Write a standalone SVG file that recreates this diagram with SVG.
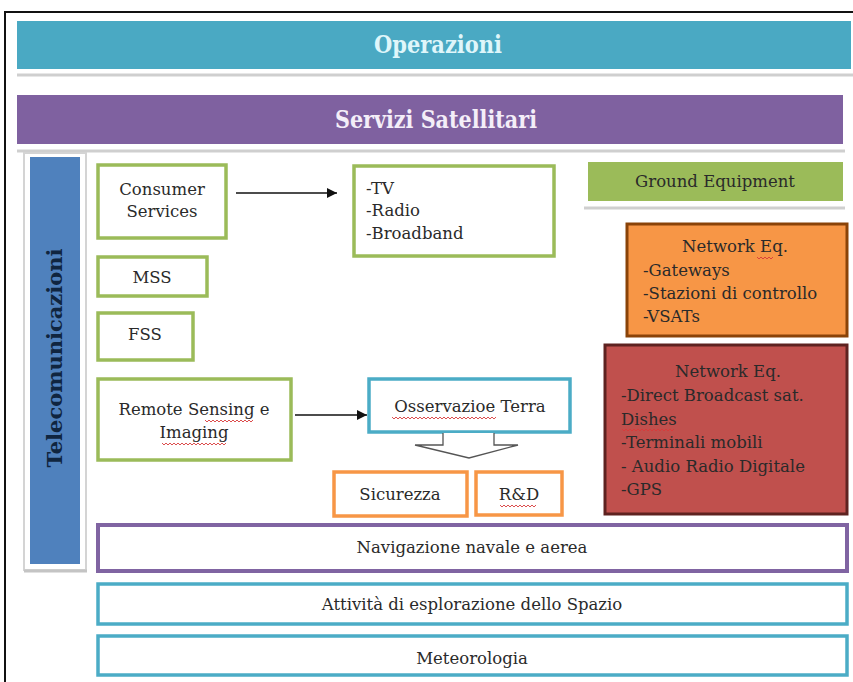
<svg xmlns="http://www.w3.org/2000/svg" width="853" height="682" viewBox="0 0 853 682">
  <defs>
    <marker id="arrowHead" viewBox="0 0 10 10" refX="10" refY="5" markerWidth="10" markerHeight="10" markerUnits="userSpaceOnUse" orient="auto">
      <path d="M0,0 L10,5 L0,10 z" fill="#111"/>
    </marker>
  </defs>
  <style>
    .body { font-family: "DejaVu Serif", "Liberation Serif", serif; font-size: 16.5px; fill: #2a2a2a; }
    .mid { text-anchor: middle; }
    .head { font-family: "DejaVu Serif Condensed", "DejaVu Serif", serif; font-weight: bold; font-size: 24px; text-anchor: middle; }
    .green { fill: #ffffff; stroke: #9bbb59; stroke-width: 3.5; }
    .teal { fill: #ffffff; stroke: #4bacc6; stroke-width: 3.5; }
    .orangeLine { fill: #ffffff; stroke: #f79646; stroke-width: 3.5; }
    .purpleLine { fill: #ffffff; stroke: #8064a2; stroke-width: 4; }
    .divider { stroke: #cfcfcf; stroke-width: 3; fill: none; }
    .wave { fill: none; stroke: #d83a3a; stroke-width: 0.9; }
  </style>

  <rect width="853" height="682" fill="#ffffff"/>
  <!-- outer frame -->
  <path d="M5,690 V12 H860" fill="none" stroke="#111" stroke-width="2"/>

  <g id="operazioni">
    <rect x="17" y="21" width="834" height="48" fill="#4aa9c3"/>
    <line class="divider" x1="17" y1="75" x2="853" y2="75"/>
    <text class="head" x="438" y="53" fill="#dff6fa" textLength="128" lengthAdjust="spacingAndGlyphs">Operazioni</text>
  </g>

  <g id="servizi-satellitari">
    <rect x="17" y="95" width="826" height="49" fill="#7f61a0"/>
    <line class="divider" x1="17" y1="151" x2="845" y2="151"/>
    <text class="head" x="436" y="128" fill="#f4eef8" textLength="202" lengthAdjust="spacingAndGlyphs">Servizi Satellitari</text>
  </g>

  <g id="telecomunicazioni">
    <rect x="24" y="153" width="62" height="417" fill="none" stroke="#d4d4d4" stroke-width="2"/>
    <line x1="24" y1="571" x2="87" y2="571" stroke="#c4c4c4" stroke-width="3"/>
    <rect x="30" y="157" width="50" height="407" fill="#4f81bd"/>
    <text x="0" y="0" transform="translate(62,358) rotate(-90)" font-family="DejaVu Serif, serif" font-weight="bold" font-size="21" fill="#10253f" text-anchor="middle">Telecomunicazioni</text>
  </g>

  <g id="consumer-services">
    <rect class="green" x="98" y="165" width="128" height="73"/>
    <text class="body mid" x="162" y="195">Consumer</text>
    <text class="body mid" x="162" y="217">Services</text>
  </g>

  <g id="tv-radio-broadband">
    <rect class="green" x="354" y="166" width="200" height="90"/>
    <text class="body" x="366" y="194">-TV</text>
    <text class="body" x="366" y="216">-Radio</text>
    <text class="body" x="366" y="239">-Broadband</text>
  </g>

  <g id="mss">
    <rect class="green" x="98" y="257" width="109" height="39"/>
    <text class="body mid" x="152" y="283">MSS</text>
  </g>

  <g id="fss">
    <rect class="green" x="98" y="313" width="95" height="47"/>
    <text class="body mid" x="145" y="340">FSS</text>
  </g>

  <g id="remote-sensing">
    <rect class="green" x="98" y="379" width="193" height="81"/>
    <text class="body mid" x="194" y="415">Remote Sensing e</text>
    <text class="body mid" x="194" y="438">Imaging</text>
    <path class="wave" d="M205,420 l2,2 l2,-2 l2,2 l2,-2 l2,2 l2,-2 l2,2 l2,-2 l2,2 l2,-2 l2,2 l2,-2 l2,2 l2,-2 l2,2 l2,-2 l2,2 l2,-2 l2,2 l2,-2 l2,2 l2,-2 l2,2 l2,-2"/>
    <path class="wave" d="M162,443 l2,2 l2,-2 l2,2 l2,-2 l2,2 l2,-2 l2,2 l2,-2 l2,2 l2,-2 l2,2 l2,-2 l2,2 l2,-2 l2,2 l2,-2 l2,2 l2,-2 l2,2 l2,-2 l2,2 l2,-2 l2,2 l2,-2 l2,2 l2,-2 l2,2 l2,-2 l2,2 l2,-2 l2,2 l2,-2"/>
  </g>

  <g id="osservazione-terra">
    <rect class="teal" x="369" y="379" width="201" height="53"/>
    <text class="body mid" x="470" y="412">Osservazioe Terra</text>
    <path class="wave" d="M392,417 l2,2 l2,-2 l2,2 l2,-2 l2,2 l2,-2 l2,2 l2,-2 l2,2 l2,-2 l2,2 l2,-2 l2,2 l2,-2 l2,2 l2,-2 l2,2 l2,-2 l2,2 l2,-2 l2,2 l2,-2 l2,2 l2,-2 l2,2 l2,-2 l2,2 l2,-2 l2,2 l2,-2 l2,2 l2,-2 l2,2 l2,-2 l2,2 l2,-2 l2,2 l2,-2 l2,2 l2,-2 l2,2 l2,-2 l2,2 l2,-2 l2,2 l2,-2 l2,2 l2,-2 l2,2 l2,-2 l2,2 l2,-2"/>
  </g>

  <g id="sicurezza">
    <rect class="orangeLine" x="334" y="472" width="133" height="44"/>
    <text class="body mid" x="400" y="500">Sicurezza</text>
  </g>

  <g id="r-and-d">
    <rect class="orangeLine" x="476" y="472" width="86" height="43"/>
    <text class="body mid" x="519" y="500">R&amp;D</text>
    <path class="wave" d="M500,505 l2,2 l2,-2 l2,2 l2,-2 l2,2 l2,-2 l2,2 l2,-2 l2,2 l2,-2 l2,2 l2,-2 l2,2 l2,-2 l2,2 l2,-2 l2,2 l2,-2"/>
  </g>

  <g id="ground-equipment">
    <rect x="588" y="162" width="255" height="39" fill="#9bbb59"/>
    <line class="divider" x1="584" y1="208" x2="845" y2="208"/>
    <text class="body mid" x="715" y="187" fill="#1e2a10">Ground Equipment</text>
  </g>

  <g id="network-eq-gateways">
    <rect x="627" y="224" width="220" height="112" fill="#f79646" stroke="#8a4308" stroke-width="3"/>
    <text class="body mid" x="735" y="252" fill="#3b1c05">Network Eq.</text>
    <text class="body" x="643" y="276" fill="#3b1c05">-Gateways</text>
    <text class="body" x="643" y="299" fill="#3b1c05">-Stazioni di controllo</text>
    <text class="body" x="643" y="322" fill="#3b1c05">-VSATs</text>
    <path class="wave" d="M757,257 l2,2 l2,-2 l2,2 l2,-2 l2,2 l2,-2 l2,2 l2,-2"/>
  </g>

  <g id="network-eq-terminals">
    <rect x="605" y="345" width="242" height="169" fill="#c0504d" stroke="#5e2220" stroke-width="3"/>
    <text class="body mid" x="728" y="377" fill="#3a0f0e">Network Eq.</text>
    <text class="body" x="621" y="401" fill="#3a0f0e">-Direct Broadcast sat.</text>
    <text class="body" x="621" y="425" fill="#3a0f0e">Dishes</text>
    <text class="body" x="621" y="448" fill="#3a0f0e">-Terminali mobili</text>
    <text class="body" x="621" y="472" fill="#3a0f0e">- Audio Radio Digitale</text>
    <text class="body" x="621" y="495" fill="#3a0f0e">-GPS</text>
    <path class="wave" d="M622,429 l2,2 l2,-2 l2,2 l2,-2 l2,2 l2,-2 l2,2 l2,-2 l2,2 l2,-2 l2,2 l2,-2 l2,2 l2,-2 l2,2 l2,-2 l2,2 l2,-2 l2,2 l2,-2 l2,2 l2,-2 l2,2 l2,-2 l2,2 l2,-2"/>
  </g>

  <g id="navigazione">
    <rect class="purpleLine" x="98" y="525" width="749" height="46"/>
    <text class="body mid" x="472" y="553">Navigazione navale e aerea</text>
  </g>

  <g id="esplorazione">
    <rect class="teal" x="98" y="584" width="749" height="40"/>
    <text class="body mid" x="472" y="610">Attività di esplorazione dello Spazio</text>
  </g>

  <g id="meteorologia">
    <rect class="teal" x="98" y="636" width="749" height="39"/>
    <text class="body mid" x="472" y="664">Meteorologia</text>
  </g>

  <g id="connectors">
    <line x1="236" y1="193" x2="337" y2="193" stroke="#111" stroke-width="1.5" marker-end="url(#arrowHead)"/>
    <line x1="295" y1="415" x2="367" y2="415" stroke="#111" stroke-width="1.5" marker-end="url(#arrowHead)"/>
    <!-- outlined block arrow under the observation box -->
    <path d="M443,433 V445 H415 L469,458 L518,445 H494 V433" fill="#ffffff" stroke="#555" stroke-width="1.3" stroke-linejoin="miter"/>
  </g>
</svg>
